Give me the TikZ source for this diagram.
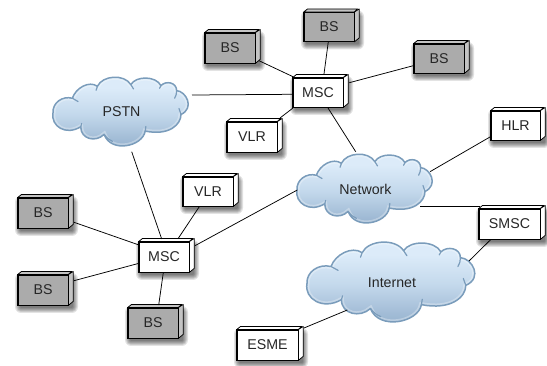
\documentclass[tikz,border=0pt]{standalone}
\usepackage{fontspec}
\setmainfont{Liberation Sans}
\definecolor{cloudline}{HTML}{7A9CBB}
\definecolor{cloudhi}{HTML}{DCEBF9}
\definecolor{cloudmd}{HTML}{C4D9EC}
\definecolor{cloudlo}{HTML}{9DB8D3}
\definecolor{bsgray}{HTML}{ABABAB}
\definecolor{bsside}{HTML}{C4C4C4}
\pgfdeclareverticalshading{cloudfill}{100bp}{
  color(0bp)=(cloudlo);
  color(32bp)=(cloudlo);
  color(50bp)=(cloudmd);
  color(66bp)=(cloudhi);
  color(100bp)=(cloudhi)}
\tikzset{
  devface/.style={draw=black,line width=0.8pt,inner sep=0pt,font=\fontsize{14.2}{16}\selectfont,text=black!85},
  whitebox/.style={devface,fill=white},
  graybox/.style={devface,fill=bsgray},
  whiteside/.style={draw=black,line width=0.75pt,fill=white,line join=round},
  grayside/.style={draw=black,line width=0.75pt,fill=bsside,line join=round},
  link/.style={draw=black,line width=0.75pt},
  cloudlabel/.style={font=\fontsize{14.2}{16}\selectfont,text=black!85,inner sep=0pt},
  cloudstroke/.style={draw=cloudline,line width=1.5pt,line join=round},
  cloudnotch/.style={draw=cloudline,line width=1.2pt,line cap=round},
}
% name, cx, cy, w, h, kind (white/gray), text
\newcommand\devbox[7]{%
  \foreach \g in {1,2,...,6}{
    \fill[black,opacity=0.11,rounded corners=\g pt]
      (#2-#4/2+3-\g,#3-#5/2+4-\g) rectangle (#2+#4/2+4+\g,#3+#5/2+2+\g);
  }
  \node[#6box,minimum width=#4pt,minimum height=#5pt] (#1) at (#2,#3) {#7};
  \draw[#6side] (#1.north west) -- ++(4,-3.2) -- ++(#4,0) -- (#1.north east) -- cycle;
  \draw[#6side] (#1.north east) -- ++(4.8,-3.2) -- ++(0,#5) -- (#1.south east) -- cycle;
  \draw[draw=black,line width=0.8pt] (#1.north west) rectangle (#1.south east);
}
\def\cloudpath{(22,270) .. controls (20,240) and (50,218) .. (80,226)
      .. controls (90,195) and (130,172) .. (155,190)
      .. controls (170,157) and (235,152) .. (255,185)
      .. controls (270,158) and (330,158) .. (345,188)
      .. controls (360,172) and (392,178) .. (392,203)
      .. controls (420,205) and (447,255) .. (405,275)
      .. controls (405,305) and (370,340) .. (298,325)
      .. controls (290,372) and (195,392) .. (175,335)
      .. controls (150,360) and (105,350) .. (105,312)
      .. controls (60,340) and (15,310) .. (22,270) -- cycle}
% name, cx, cy, w, h, text
\newcommand\cloudnode[6]{%
  \begin{scope}[shift={(#2,#3)},xscale=#4/410,yscale=#5/205,shift={(-227,-267.5)}]
    \path[shade,shading=cloudfill] \cloudpath;
    \begin{scope}
      \clip \cloudpath;
      \draw[white,opacity=0.3,line width=5pt] \cloudpath;
    \end{scope}
    \path[cloudstroke] \cloudpath;
    \draw[cloudnotch] (80,226) -- (97,236);
    \draw[cloudnotch] (155,190) -- (151,202);
    \draw[cloudnotch] (255,185) -- (263,198);
    \draw[cloudnotch] (345,188) -- (341,196);
    \draw[cloudnotch] (392,203) .. controls (392,212) and (390,220) .. (386,226);
    \draw[cloudnotch] (405,275) -- (399,257);
    \draw[cloudnotch] (298,325) -- (300,311);
    \draw[cloudnotch] (175,335) .. controls (182,345) and (190,352) .. (200,356);
    \draw[cloudnotch] (105,312) -- (108,302);
  \end{scope}
  \node[cloudlabel] (#1) at (#2,#3) {#6};
}
\begin{document}
\begin{tikzpicture}[x=1pt,y=-1pt]
  \useasboundingbox (0,0) rectangle (547,366);
  % clouds
  \cloudnode{pstn}{121.5}{112}{137}{68}{PSTN}
  \cloudnode{net}{365.5}{189}{137}{68}{Network}
  \cloudnode{inet}{392}{282.5}{170}{79}{Internet}
  % devices
  \devbox{bsa}{230}{48}{50}{30}{gray}{BS}
  \devbox{bsb}{329}{27}{50}{29}{gray}{BS}
  \devbox{bsc}{439}{58.5}{50}{29}{gray}{BS}
  \devbox{msct}{318}{92.5}{50}{29}{white}{MSC}
  \devbox{vlrt}{252}{137}{50}{30}{white}{VLR}
  \devbox{vlrl}{208}{191.5}{50}{29}{white}{VLR}
  \devbox{bsl}{43}{213}{50}{30}{gray}{BS}
  \devbox{bsm}{43}{290}{50}{30}{gray}{BS}
  \devbox{bsn}{153}{323}{50}{30}{gray}{BS}
  \devbox{mscl}{164}{257}{50}{30}{white}{MSC}
  \devbox{hlr}{515.5}{125.5}{49}{29}{white}{HLR}
  \devbox{smsc}{509.5}{224}{61}{30}{white}{SMSC}
  \devbox{esme}{267.5}{345}{61}{30}{white}{ESME}
  % connectors
  \draw[link] ([shift={(29,12.7)}]bsa.center) -- ([shift={(-25,-15.8)}]msct.center);
  \draw[link] ([shift={(-0.7,14.7)}]bsb.center) -- ([shift={(6,-18.5)}]msct.center);
  \draw[link] ([shift={(-25,7)}]bsc.center) -- ([shift={(31.3,-9.8)}]msct.center);
  \draw[link] ([shift={(70.5,-17)}]pstn.center) -- ([shift={(-25,1.8)}]msct.center);
  \draw[link] ([shift={(28,-19)}]vlrt.center) -- ([shift={(-25,15.5)}]msct.center);
  \draw[link] ([shift={(10,15.5)}]msct.center) -- ([shift={(-9.8,-37.3)}]net.center);
  \draw[link] ([shift={(-25,11.2)}]hlr.center) -- ([shift={(64.5,-17.3)}]net.center);
  \draw[link] ([shift={(54.5,17)}]net.center) -- ([shift={(-29.5,-18)}]smsc.center);
  \draw[link] ([shift={(-18.5,15.3)}]smsc.center) -- ([shift={(77,-21.5)}]inet.center);
  \draw[link] ([shift={(-44.7,27.5)}]inet.center) -- ([shift={(36.5,-17)}]esme.center);
  \draw[link] ([shift={(10.2,39.7)}]pstn.center) -- ([shift={(-2.3,-18)}]mscl.center);
  \draw[link] ([shift={(-8.7,15.2)}]vlrl.center) -- ([shift={(14.3,-18.7)}]mscl.center);
  \draw[link] ([shift={(31,-11.3)}]mscl.center) -- ([shift={(-68.2,1)}]net.center);
  \draw[link] ([shift={(31,9.3)}]bsl.center) -- ([shift={(-25,-12)}]mscl.center);
  \draw[link] ([shift={(31,-9.3)}]bsm.center) -- ([shift={(-25,6.3)}]mscl.center);
  \draw[link] ([shift={(-0.7,15.7)}]mscl.center) -- ([shift={(5.7,-18)}]bsn.center);
\end{tikzpicture}
\end{document}
